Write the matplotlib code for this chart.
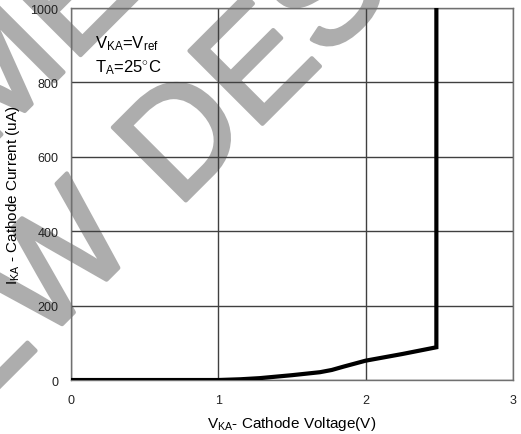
import numpy as np
import matplotlib.pyplot as plt
import matplotlib.patheffects as pe

plt.rcParams['font.family'] = ['Liberation Sans', 'DejaVu Sans']
plt.rcParams['mathtext.fontset'] = 'custom'
plt.rcParams['mathtext.rm'] = 'Liberation Sans'
plt.rcParams['mathtext.it'] = 'Liberation Sans'

# cathode voltage (V) vs cathode current (uA)
v_ka = [0.0, 1.0, 1.15, 1.28, 1.5, 1.69, 1.77, 1.85, 2.0, 2.25, 2.48, 2.48]
i_ka = [0, 0, 2, 5, 13, 21, 27, 36, 52, 70, 88, 1000]

x_ticks = [0, 1, 2, 3]
y_ticks = [0, 200, 400, 600, 800, 1000]

fig = plt.figure(figsize=(5.21, 4.35), dpi=100)
ax = fig.add_axes([0.1363, 0.1241, 0.8483, 0.8552])
ax.set_facecolor('none')

ax.plot(v_ka, i_ka, color='black', lw=3, solid_joinstyle='miter', zorder=3)

ax.set_xlim(0, 3)
ax.set_ylim(0, 1000)
ax.set_xticks(x_ticks)
ax.set_yticks(y_ticks)
ax.tick_params(length=0, labelsize=9, pad=10, labelcolor='#222222')
ax.tick_params(axis='y', pad=9)
ax.grid(True, color='#404040', lw=1)
for s in ax.spines.values():
    s.set_color('#707070')
    s.set_linewidth(1)

ax.set_xlabel(r"V$_{\mathrm{KA}}$- Cathode Voltage(V)", fontsize=11, labelpad=6)
ax.set_ylabel(r"I$_{\mathrm{KA}}$ - Cathode Current (uA)", fontsize=11, labelpad=6)

ax.text(0.054, 0.907, r"V$_{\mathrm{KA}}$=V$_{\mathrm{ref}}$", transform=ax.transAxes,
        fontsize=12, va='center')
ax.text(0.054, 0.843, r"T$_{\mathrm{A}}$=25$^{\circ}$C", transform=ax.transAxes,
        fontsize=12, va='center')

# grey watermark behind the axes, two lines at 45 degrees
wm = dict(fontsize=108, rotation=45, color='#adadad', va='baseline',
          rotation_mode='anchor', zorder=-1,
          path_effects=[pe.Stroke(linewidth=3, foreground='#adadad'), pe.Normal()])
fig.text(0.340, 0.517, "DESIGN", ha='left', **wm)
fig.text(0.269, 0.432, "NEW", ha='right', **wm)
fig.text(0.138, 0.851, "NOT RECOMM", ha='right', **wm)
fig.text(0.138, 0.851, "ENDED FOR", ha='left', **wm)

fig.savefig('out.png', dpi=100)
